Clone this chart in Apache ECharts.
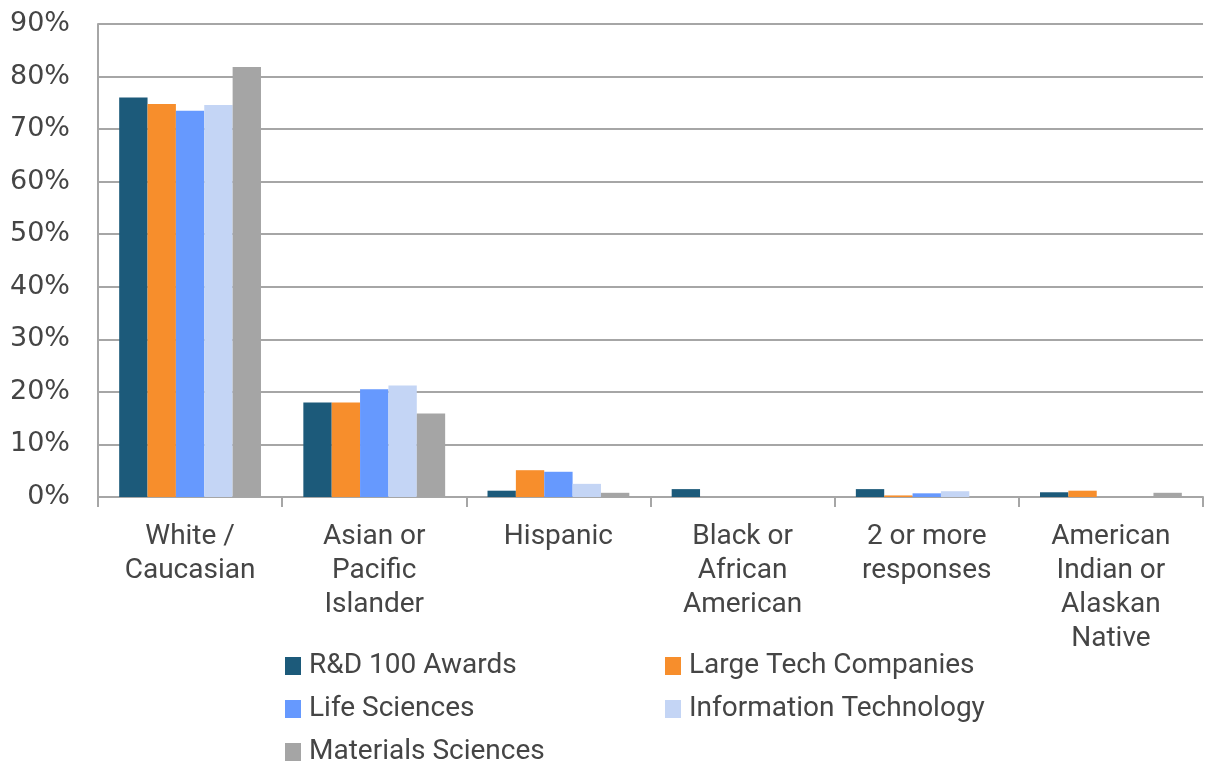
<!DOCTYPE html>
<html>
<head>
<meta charset="utf-8">
<script src="https://cdn.jsdelivr.net/npm/echarts@6/dist/echarts.min.js"></script>
<style>
  html, body { margin: 0; padding: 0; background: #fff; }
  #chart { width: 1206px; height: 764px; }
</style>
</head>
<body>
<div id="chart"></div>
<script>
const categories = [
  'White /\nCaucasian',
  'Asian or\nPacific\nIslander',
  'Hispanic',
  'Black or\nAfrican\nAmerican',
  '2 or more\nresponses',
  'American\nIndian or\nAlaskan\nNative'
];
const seriesNames = ['R&D 100 Awards', 'Large Tech Companies', 'Life Sciences', 'Information Technology', 'Materials Sciences'];
const colors = ['#1c5a7a', '#f78e2c', '#6699fe', '#c4d5f5', '#a5a5a5'];
const rdAwards = [76, 18, 1.2, 1.5, 1.5, 0.9];
const largeTech = [74.8, 18, 5.1, 0, 0.3, 1.2];
const lifeSciences = [73.5, 20.5, 4.8, 0, 0.7, 0];
const infoTech = [74.6, 21.2, 2.5, 0, 1.1, 0];
const materials = [81.8, 15.9, 0.8, 0, 0, 0.8];
const yTicks = { min: 0, max: 90, interval: 10 };

const values = [rdAwards, largeTech, lifeSciences, infoTech, materials];
const font = 'Roboto, "Liberation Sans", sans-serif';
const textColor = '#454545';

// legend slots: [left, top] for each series, two columns
const legendPos = [[285, 652], [665, 652], [285, 695], [665, 695], [285, 738]];

const chart = echarts.init(document.getElementById('chart'));

chart.setOption({
  animation: false,
  color: colors,
  grid: { left: 98, right: 3, top: 24, bottom: 267 },
  legend: seriesNames.map((name, i) => ({
    left: legendPos[i][0],
    top: legendPos[i][1],
    padding: 0,
    data: [name],
    itemWidth: 16,
    itemHeight: 18,
    icon: 'rect',
    textStyle: { fontSize: 28, color: textColor, fontFamily: font, padding: [0, 0, 0, 3] }
  })),
  xAxis: {
    type: 'category',
    data: categories,
    axisLine: { lineStyle: { color: '#a6a6a6', width: 2 } },
    axisTick: { show: true, length: 10, lineStyle: { color: '#a6a6a6', width: 2 } },
    axisLabel: {
      interval: 0,
      margin: 23,
      fontSize: 28,
      lineHeight: 34,
      color: textColor,
      fontFamily: font
    }
  },
  yAxis: {
    type: 'value',
    min: yTicks.min,
    max: yTicks.max,
    interval: yTicks.interval,
    axisLine: { show: true, lineStyle: { color: '#a6a6a6', width: 2 } },
    axisTick: { show: false },
    splitLine: { lineStyle: { color: '#a6a6a6', width: 2 } },
    axisLabel: {
      formatter: '{value}%',
      margin: 28,
      fontSize: 27,
      color: textColor,
      fontFamily: '"DejaVu Sans", sans-serif'
    }
  },
  series: seriesNames.map((name, i) => ({
    name: name,
    type: 'bar',
    data: values[i],
    barGap: '0%',
    barCategoryGap: '23%',
    itemStyle: { color: colors[i] }
  }))
});
</script>
</body>
</html>
